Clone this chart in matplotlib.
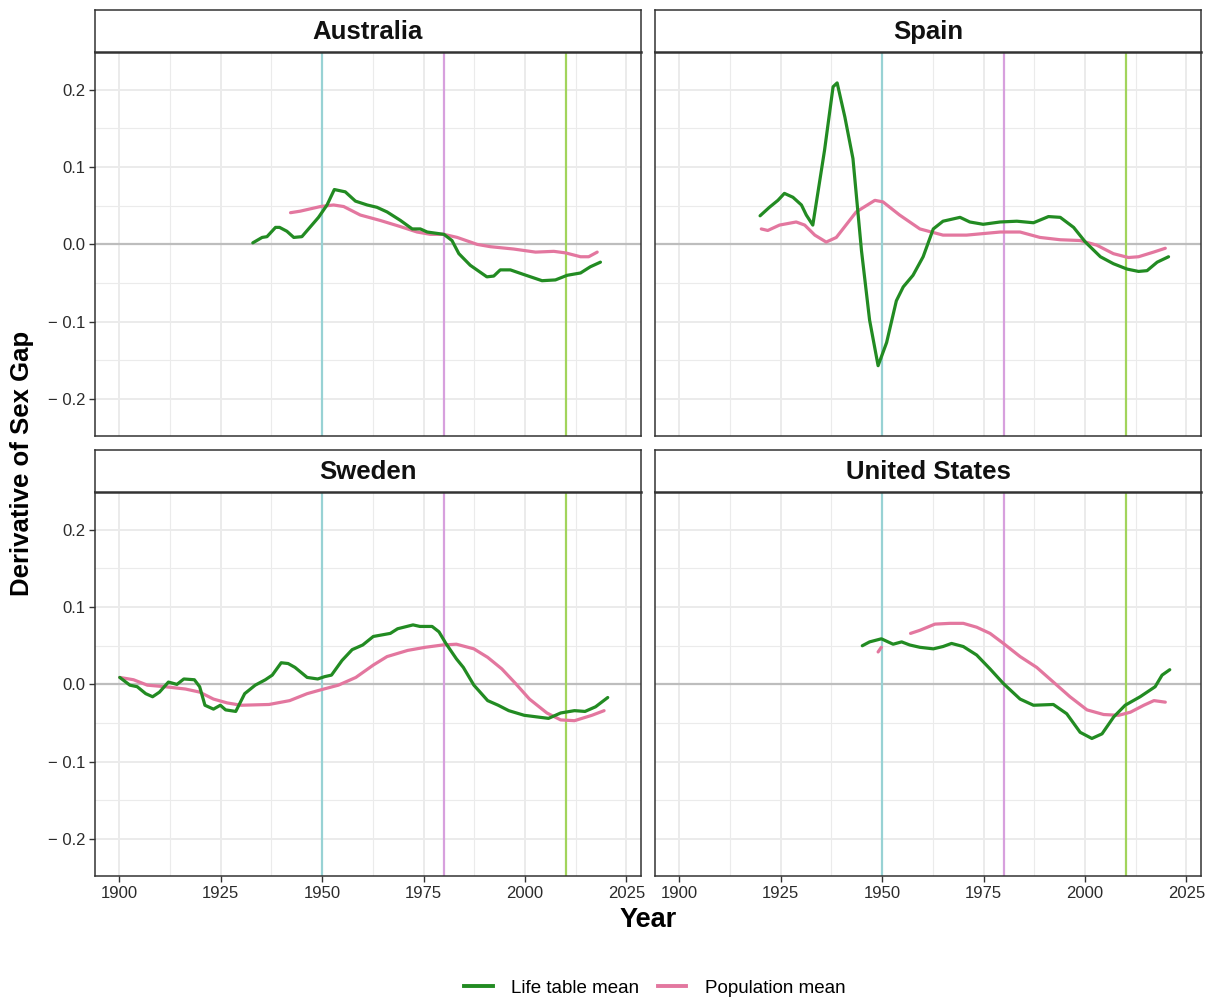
import matplotlib
matplotlib.use("Agg")
import matplotlib.pyplot as plt
from matplotlib.lines import Line2D

plt.rcParams["font.family"] = ["Liberation Sans", "DejaVu Sans"]

# ---- data -------------------------------------------------------------
countries = ["Australia", "Spain", "Sweden", "United States"]

aus_lt_year = [1932.9, 1935.2, 1936.4, 1938.5, 1939.5, 1941.3, 1943.0, 1945.0, 1949.1, 1951.2,
               1953.0, 1955.7, 1958.2, 1961.1, 1963.5, 1966.0, 1969.3, 1972.2, 1974.2, 1975.9,
               1980.0, 1982.0, 1983.7, 1986.5, 1990.6, 1992.3, 1993.9, 1996.4, 1999.7, 2004.2,
               2007.5, 2010.4, 2013.7, 2016.1, 2018.6]
aus_lt_val = [0.002, 0.009, 0.010, 0.022, 0.022, 0.017, 0.009, 0.010, 0.035, 0.051,
              0.071, 0.068, 0.056, 0.051, 0.048, 0.042, 0.031, 0.020, 0.020, 0.016,
              0.013, 0.005, -0.012, -0.027, -0.042, -0.041, -0.033, -0.033, -0.039, -0.047,
              -0.046, -0.040, -0.037, -0.029, -0.023]
aus_pop_year = [1942.2, 1944.6, 1949.6, 1952.8, 1955.3, 1959.4, 1964.3, 1969.3, 1973.4, 1976.7,
                1980.0, 1983.3, 1988.2, 1991.5, 1997.2, 2002.6, 2007.1, 2010.0, 2013.7, 2015.7,
                2017.8]
aus_pop_val = [0.041, 0.043, 0.049, 0.051, 0.049, 0.038, 0.031, 0.023, 0.016, 0.013,
               0.013, 0.009, 0.000, -0.003, -0.006, -0.010, -0.009, -0.011, -0.016, -0.016,
               -0.010]

esp_lt_year = [1919.9, 1922.2, 1924.3, 1925.9, 1928.0, 1930.1, 1931.3, 1932.9, 1935.8, 1937.9,
               1938.9, 1940.8, 1942.8, 1944.9, 1946.9, 1949.0, 1951.1, 1953.5, 1955.2, 1957.6,
               1960.1, 1962.6, 1965.0, 1969.2, 1971.6, 1974.9, 1979.1, 1983.2, 1987.3, 1991.0,
               1993.9, 1997.2, 2000.1, 2003.8, 2007.0, 2010.4, 2013.2, 2015.3, 2017.8, 2020.6]
esp_lt_val = [0.037, 0.048, 0.057, 0.066, 0.061, 0.051, 0.038, 0.025, 0.122, 0.204,
              0.209, 0.165, 0.111, -0.008, -0.098, -0.157, -0.127, -0.073, -0.055, -0.040,
              -0.016, 0.020, 0.030, 0.035, 0.029, 0.026, 0.029, 0.030, 0.028, 0.036,
              0.035, 0.022, 0.003, -0.016, -0.025, -0.032, -0.035, -0.034, -0.023, -0.016]
esp_pop_year = [1920.2, 1921.8, 1924.7, 1928.8, 1930.9, 1933.4, 1936.2, 1938.7, 1943.6, 1948.2,
                1950.2, 1954.3, 1959.3, 1965.0, 1970.8, 1979.1, 1984.0, 1988.9, 1993.9, 1998.8,
                2002.9, 2007.0, 2010.7, 2013.2, 2016.9, 2019.8]
esp_pop_val = [0.020, 0.018, 0.025, 0.029, 0.025, 0.012, 0.003, 0.009, 0.042, 0.057,
               0.055, 0.038, 0.020, 0.012, 0.012, 0.016, 0.016, 0.009, 0.006, 0.005,
               -0.001, -0.012, -0.017, -0.016, -0.010, -0.005]

swe_lt_year = [1900.1, 1902.6, 1904.4, 1906.5, 1908.2, 1909.9, 1912.1, 1914.2, 1915.9, 1918.5,
               1919.8, 1921.1, 1923.2, 1924.9, 1926.2, 1928.7, 1930.9, 1933.5, 1936.0, 1937.7,
               1939.9, 1941.6, 1943.3, 1946.3, 1948.9, 1950.6, 1952.3, 1954.9, 1957.4, 1960.0,
               1962.6, 1966.8, 1968.6, 1972.4, 1974.1, 1977.1, 1978.8, 1980.5, 1983.1, 1984.8,
               1987.4, 1990.8, 1993.4, 1996.0, 1999.8, 2002.8, 2005.8, 2008.8, 2012.2, 2014.8,
               2017.4, 2020.4]
swe_lt_val = [0.009, -0.001, -0.003, -0.012, -0.016, -0.010, 0.003, 0.000, 0.007, 0.006,
              -0.003, -0.027, -0.032, -0.027, -0.033, -0.035, -0.012, -0.001, 0.006, 0.012,
              0.028, 0.027, 0.022, 0.009, 0.007, 0.010, 0.012, 0.031, 0.045, 0.051,
              0.062, 0.066, 0.072, 0.077, 0.075, 0.075, 0.068, 0.053, 0.033, 0.022,
              -0.001, -0.021, -0.027, -0.034, -0.040, -0.042, -0.044, -0.037, -0.034, -0.035,
              -0.029, -0.017]
swe_pop_year = [1900.1, 1903.5, 1906.9, 1911.2, 1916.3, 1919.8, 1923.2, 1926.6, 1930.0, 1936.9,
                1942.0, 1946.3, 1949.7, 1954.0, 1958.3, 1962.6, 1966.0, 1971.1, 1975.4, 1979.7,
                1983.1, 1987.4, 1990.8, 1994.3, 1997.7, 2001.1, 2005.4, 2008.8, 2012.2, 2016.5,
                2019.5]
swe_pop_val = [0.009, 0.006, -0.001, -0.003, -0.006, -0.010, -0.019, -0.024, -0.027, -0.026,
               -0.021, -0.012, -0.007, -0.001, 0.009, 0.025, 0.036, 0.044, 0.048, 0.051,
               0.052, 0.046, 0.035, 0.020, 0.001, -0.019, -0.037, -0.046, -0.047, -0.040,
               -0.034]

usa_lt_year = [1945.1, 1946.9, 1949.8, 1952.7, 1954.8, 1956.8, 1959.3, 1962.6, 1965.0, 1967.1,
               1970.0, 1973.3, 1976.6, 1979.9, 1984.0, 1987.3, 1992.2, 1995.5, 1998.8, 2001.7,
               2004.2, 2007.1, 2009.9, 2013.6, 2017.3, 2019.0, 2020.9]
usa_lt_val = [0.050, 0.055, 0.059, 0.052, 0.055, 0.051, 0.048, 0.046, 0.049, 0.053,
              0.049, 0.038, 0.020, 0.001, -0.019, -0.027, -0.026, -0.038, -0.062, -0.070,
              -0.064, -0.042, -0.027, -0.016, -0.003, 0.012, 0.019]
# population series has a gap between 1950 and 1957 (None breaks the line)
usa_pop_year = [1949.0, 1949.8, 1953.0, 1957.0, 1959.3, 1963.0, 1966.7, 1970.0, 1973.3, 1976.6,
                1979.9, 1984.0, 1988.1, 1992.2, 1996.3, 2000.5, 2004.6, 2008.3, 2011.2, 2014.5,
                2017.0, 2019.8]
usa_pop_val = [0.042, 0.048, None, 0.066, 0.070, 0.078, 0.079, 0.079, 0.074, 0.066,
               0.053, 0.036, 0.022, 0.003, -0.016, -0.033, -0.039, -0.040, -0.036, -0.027,
               -0.021, -0.023]

series = {
    "Australia": ((aus_lt_year, aus_lt_val), (aus_pop_year, aus_pop_val)),
    "Spain": ((esp_lt_year, esp_lt_val), (esp_pop_year, esp_pop_val)),
    "Sweden": ((swe_lt_year, swe_lt_val), (swe_pop_year, swe_pop_val)),
    "United States": ((usa_lt_year, usa_lt_val), (usa_pop_year, usa_pop_val)),
}

ref_years = [1950, 1980, 2010]
ref_colors = ["#98D2D4", "#D7A0DD", "#A2D45C"]
x_ticks = [1900, 1925, 1950, 1975, 2000, 2025]
y_ticks = [-0.2, -0.1, 0.0, 0.1, 0.2]
y_ticklabels = ["\u2212 0.2", "\u2212 0.1", "0.0", "0.1", "0.2"]
series_labels = ["Life table mean", "Population mean"]
series_colors = ["#228B22", "#E3779F"]

# ---- layout -----------------------------------------------------------
W, H = 1215, 998
fig = plt.figure(figsize=(W / 100, H / 100), dpi=100)
fig.patch.set_facecolor("white")

def frac(x0, y0, x1, y1):
    return [x0 / W, 1 - y1 / H, (x1 - x0) / W, (y1 - y0) / H]

col_x = [(95, 641), (655, 1201)]
row_y = [(52, 436), (492, 876)]
strip_y = [(10, 52), (450, 492)]
border = "#333333"
grid_c = "#EBEBEB"

for i, country in enumerate(countries):
    r, c = divmod(i, 2)
    x0, x1 = col_x[c]
    y0, y1 = row_y[r]
    ax = fig.add_axes(frac(x0, y0, x1, y1))
    ax.set_xlim(1894.0, 2028.6)
    ax.set_ylim(-0.248, 0.249)
    ax.set_facecolor("white")

    ax.set_xticks(x_ticks)
    ax.set_xticks([1912.5, 1937.5, 1962.5, 1987.5, 2012.5], minor=True)
    ax.set_yticks(y_ticks)
    ax.set_yticks([-0.15, -0.05, 0.05, 0.15], minor=True)
    ax.grid(True, which="major", color=grid_c, lw=1.4, zorder=0)
    ax.grid(True, which="minor", color=grid_c, lw=0.8, zorder=0)
    ax.set_axisbelow(True)

    ax.tick_params(which="minor", length=0)
    ax.tick_params(which="major", length=4, width=1, color=border,
                   labelsize=12, labelcolor="#2B2B2B", pad=3)
    if c == 0:
        ax.set_yticklabels(y_ticklabels)
    else:
        ax.tick_params(axis="y", which="major", length=0, labelleft=False)
    if r == 1:
        ax.set_xticklabels([str(t) for t in x_ticks])
    else:
        ax.tick_params(axis="x", which="major", length=0, labelbottom=False)

    for s in ax.spines.values():
        s.set_color(border)
        s.set_linewidth(1.1)

    ax.axhline(0, color="#BDBDBD", lw=1.6, zorder=1)
    for yr, col in zip(ref_years, ref_colors):
        ax.axvline(yr, color=col, lw=1.6, zorder=2)

    (lt_x, lt_y), (pop_x, pop_y) = series[country]
    pop_y_plot = [float("nan") if v is None else v for v in pop_y]
    ax.plot(lt_x, lt_y, color=series_colors[0], lw=2.3, zorder=4,
            solid_joinstyle="round", solid_capstyle="round")
    ax.plot(pop_x, pop_y_plot, color=series_colors[1], lw=2.3, zorder=3,
            solid_joinstyle="round", solid_capstyle="round")

    # facet strip
    sy0, sy1 = strip_y[r]
    sax = fig.add_axes(frac(x0, sy0, x1, sy1))
    sax.set_xticks([])
    sax.set_yticks([])
    sax.set_facecolor("white")
    for s in sax.spines.values():
        s.set_color(border)
        s.set_linewidth(1.1)
    sax.spines["bottom"].set_linewidth(1.8)
    sax.text(0.5, 0.47, country, ha="center", va="center",
             fontsize=18.5, fontweight="bold", color="#111111",
             transform=sax.transAxes)

# axis titles
fig.text(648 / W, 1 - 920 / H, "Year", ha="center", va="center",
         fontsize=19.5, fontweight="bold", color="black")
fig.text(22 / W, 1 - 463 / H, "Derivative of Sex Gap", ha="center", va="center",
         rotation=90, fontsize=18.5, fontweight="bold", color="black")

# legend
handles = [Line2D([0], [0], color=series_colors[0], lw=2.8),
           Line2D([0], [0], color=series_colors[1], lw=2.8)]
fig.legend(handles, series_labels, loc="center", bbox_to_anchor=(655 / W, 1 - 988 / H),
           ncol=2, frameon=False, fontsize=13.5, handlelength=1.5, handletextpad=1.0,
           columnspacing=1.0)

fig.savefig("out.png", dpi=100, facecolor="white")
